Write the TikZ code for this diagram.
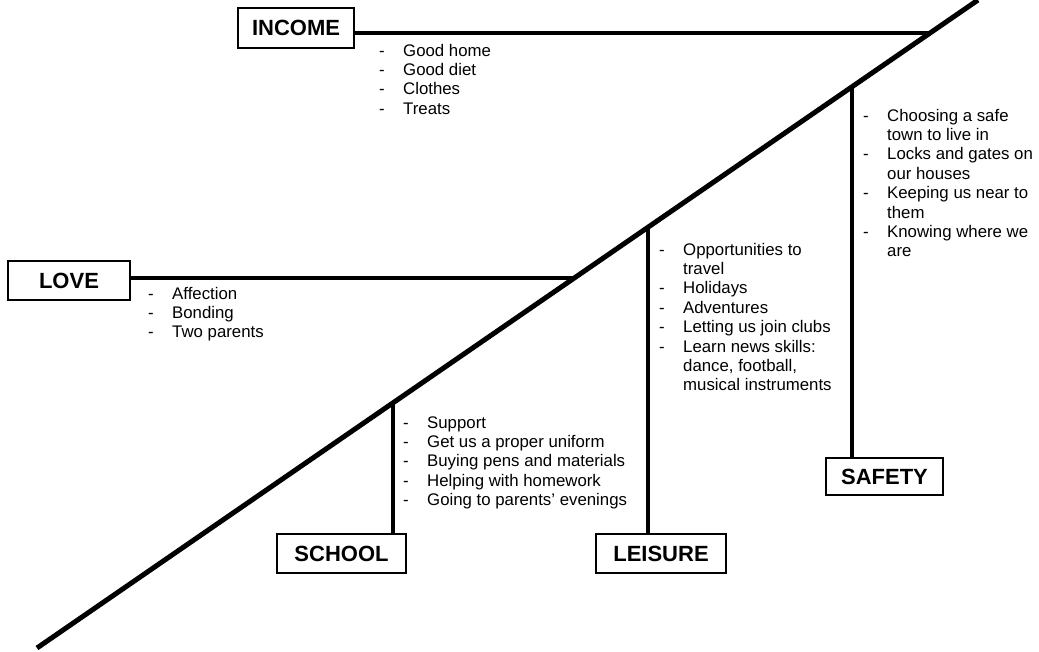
\documentclass[tikz,border=0pt]{standalone}
\usepackage{fontspec}
\setmainfont{Liberation Sans}
\begin{document}
\begin{tikzpicture}[x=1pt,y=-1pt,
  labelbox/.style={draw, line width=2pt, inner sep=0pt, font=\fontsize{22}{24}\selectfont\bfseries},
  branch/.style={line width=4pt},
  spine/.style={line width=5pt},
  listtext/.style={anchor=base west, inner sep=0pt, align=left, font=\fontsize{16.8}{19.4}\selectfont}]
\useasboundingbox (0,0) rectangle (1039,651);
\newcommand{\itm}{\makebox[24pt][l]{-}}
\newcommand{\cnt}{\hspace*{24pt}}
% spine
\coordinate (d1) at (37,648);
\coordinate (d2) at (978,0);
\draw[spine] (d1) -- (d2);
% junctions on the spine
\coordinate (jInc) at (930,33);
\coordinate (jLove) at (574,278);
\coordinate (jSchool) at (393,402.8);
\coordinate (jLeis) at (648,227.3);
\coordinate (jSafe) at (852,86.8);
% boxes
\node[labelbox, minimum width=116pt, minimum height=40pt] (income) at (296,28) {INCOME};
\node[labelbox, minimum width=122pt, minimum height=39pt] (love) at (69,280.5) {LOVE};
\node[labelbox, minimum width=129pt, minimum height=39pt] (school) at (341.5,553.5) {SCHOOL};
\node[labelbox, minimum width=130pt, minimum height=39pt] (leisure) at (661,553.5) {LEISURE};
\node[labelbox, minimum width=117pt, minimum height=37pt] (safety) at (884.5,476.5) {SAFETY};
% branches
\draw[branch] (income.east |- jInc) -- (jInc);
\draw[branch] (love.east |- jLove) -- (jLove);
\draw[branch] (jSchool) -- (school.north -| jSchool);
\draw[branch] (jLeis) -- (leisure.north -| jLeis);
\draw[branch] (jSafe) -- (safety.north -| jSafe);
% lists (anchored at the baseline of the last line)
\node[listtext] (incList) at (379,114.2) {\itm Good home\\\itm Good diet\\\itm Clothes\\\itm Treats};
\node[listtext] (loveList) at (148,337.8) {\itm Affection\\\itm Bonding\\\itm Two parents};
\node[listtext] (schoolList) at (403,505.6) {\itm Support\\\itm Get us a proper uniform\\\itm Buying pens and materials\\\itm Helping with homework\\\itm Going to parents' evenings};
\node[listtext] (leisList) at (659,390.8) {\itm Opportunities to\\\cnt travel\\\itm Holidays\\\itm Adventures\\\itm Letting us join clubs\\\itm Learn news skills:\\\cnt dance, football,\\\cnt musical instruments};
\node[listtext] (safeList) at (863,256.8) {\itm Choosing a safe\\\cnt town to live in\\\itm Locks and gates on\\\cnt our houses\\\itm Keeping us near to\\\cnt them\\\itm Knowing where we\\\cnt are};
\end{tikzpicture}
\end{document}
